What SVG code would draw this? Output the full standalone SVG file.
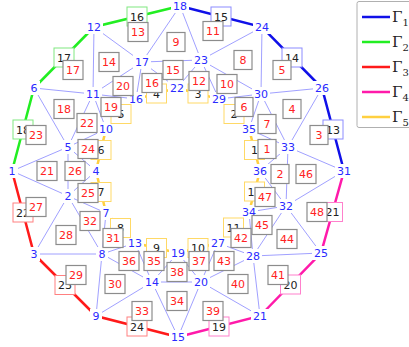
<svg xmlns="http://www.w3.org/2000/svg" width="409" height="347" viewBox="0 0 409 347">
<style>
.m{stroke:#8888ff;stroke-width:0.8;fill:none}
.b{stroke-width:2.5;fill:none;stroke-linecap:butt}
.g1{stroke:#1010e8}.g2{stroke:#22ee22}.g3{stroke:#ff1a1a}.g4{stroke:#ff1aaa}.g5{stroke:#ffd040}
.nb{fill:#fff}
.nt{font-family:"DejaVu Sans",sans-serif;font-size:11px;fill:#2a2aff;text-anchor:middle}
.eb{fill:#fff;stroke:#8c8c8c;stroke-width:1.2}
.et{font-family:"DejaVu Sans",sans-serif;font-size:11px;fill:#ff2222;text-anchor:middle}
.kb{fill:#fff;stroke-width:1}
.k1{stroke:#8c8cff}.k2{stroke:#80e880}.k3{stroke:#ff8080}.k4{stroke:#ff80cc}.k5{stroke:#ffd966}
.kt{font-family:"DejaVu Sans",sans-serif;font-size:11px;fill:#222;text-anchor:middle}
.lg{font-family:"DejaVu Serif",serif;font-size:15px;fill:#222}
</style>
<rect width="409" height="347" fill="#fff"/>
<g id="connectors">
<path class="m" d="M180,6L142,62M180,6L201,60M262,27L201,60M262,27L261,94M322,88L261,94M322,88L288,147M344,171L288,147M344,171L286,206M321,253L286,206M321,253L253,256M260,316L253,256M260,316L201,282M178,337L201,282M178,337L152,282M96,316L152,282M96,316L102,254M34,254L102,254M34,254L68,196M12,171L68,196M12,171L68,147M34,88L68,147M34,88L93,94M94,27L93,94M94,27L142,62"/>
<path class="m" d="M142,62L201,60L261,94L288,147L286,206L253,256L201,282L152,282L102,254L68,196L68,147L93,94Z"/>
<path class="m" d="M142,62L136,99M142,62L177,88M201,60L177,88M201,60L219,99M261,94L219,99M261,94L249,129M288,147L249,129M288,147L260,171M286,206L260,171M286,206L249,212M253,256L249,212M253,256L218,243M201,282L218,243M201,282L178,253M152,282L178,253M152,282L135,243M102,254L135,243M102,254L106,213M68,196L106,213M68,196L96,171M68,147L96,171M68,147L106,129M93,94L106,129M93,94L136,99"/>
<polyline class="b g2" points="12,171 34,88 94,27 180,6"/>
<polyline class="b g1" points="180,6 262,27 322,88 344,171"/>
<polyline class="b g4" points="344,171 321,253 260,316 178,337"/>
<polyline class="b g3" points="178,337 96,316 34,254 12,171"/>
<polygon class="b g5" points="177,88 219,99 249,129 260,171 249,212 218,243 178,253 135,243 106,213 96,171 106,129 136,99"/>
</g>
<g id="nodes">
<g id="n1" transform="translate(12,171)"><rect class="nb" x="-6" y="-7" width="12" height="14"/><text class="nt" y="4">1</text></g>
<g id="n2" transform="translate(68,196)"><rect class="nb" x="-6" y="-7" width="12" height="14"/><text class="nt" y="4">2</text></g>
<g id="n3" transform="translate(34,254)"><rect class="nb" x="-6" y="-7" width="12" height="14"/><text class="nt" y="4">3</text></g>
<g id="n4" transform="translate(96,171)"><rect class="nb" x="-6" y="-7" width="12" height="14"/><text class="nt" y="4">4</text></g>
<g id="n5" transform="translate(68,147)"><rect class="nb" x="-6" y="-7" width="12" height="14"/><text class="nt" y="4">5</text></g>
<g id="n6" transform="translate(34,88)"><rect class="nb" x="-6" y="-7" width="12" height="14"/><text class="nt" y="4">6</text></g>
<g id="n7" transform="translate(106,213)"><rect class="nb" x="-6" y="-7" width="12" height="14"/><text class="nt" y="4">7</text></g>
<g id="n8" transform="translate(102,254)"><rect class="nb" x="-6" y="-7" width="12" height="14"/><text class="nt" y="4">8</text></g>
<g id="n9" transform="translate(96,316)"><rect class="nb" x="-6" y="-7" width="12" height="14"/><text class="nt" y="4">9</text></g>
<g id="n10" transform="translate(106,129)"><rect class="nb" x="-9" y="-7" width="18" height="14"/><text class="nt" y="4">10</text></g>
<g id="n11" transform="translate(93,94)"><rect class="nb" x="-9" y="-7" width="18" height="14"/><text class="nt" y="4">11</text></g>
<g id="n12" transform="translate(94,27)"><rect class="nb" x="-9" y="-7" width="18" height="14"/><text class="nt" y="4">12</text></g>
<g id="n13" transform="translate(135,243)"><rect class="nb" x="-9" y="-7" width="18" height="14"/><text class="nt" y="4">13</text></g>
<g id="n14" transform="translate(152,282)"><rect class="nb" x="-9" y="-7" width="18" height="14"/><text class="nt" y="4">14</text></g>
<g id="n15" transform="translate(178,337)"><rect class="nb" x="-9" y="-7" width="18" height="14"/><text class="nt" y="4">15</text></g>
<g id="n16" transform="translate(136,99)"><rect class="nb" x="-9" y="-7" width="18" height="14"/><text class="nt" y="4">16</text></g>
<g id="n17" transform="translate(142,62)"><rect class="nb" x="-9" y="-7" width="18" height="14"/><text class="nt" y="4">17</text></g>
<g id="n18" transform="translate(180,6)"><rect class="nb" x="-9" y="-7" width="18" height="14"/><text class="nt" y="4">18</text></g>
<g id="n19" transform="translate(178,253)"><rect class="nb" x="-9" y="-7" width="18" height="14"/><text class="nt" y="4">19</text></g>
<g id="n20" transform="translate(201,282)"><rect class="nb" x="-9" y="-7" width="18" height="14"/><text class="nt" y="4">20</text></g>
<g id="n21" transform="translate(260,316)"><rect class="nb" x="-9" y="-7" width="18" height="14"/><text class="nt" y="4">21</text></g>
<g id="n22" transform="translate(177,88)"><rect class="nb" x="-9" y="-7" width="18" height="14"/><text class="nt" y="4">22</text></g>
<g id="n23" transform="translate(201,60)"><rect class="nb" x="-9" y="-7" width="18" height="14"/><text class="nt" y="4">23</text></g>
<g id="n24" transform="translate(262,27)"><rect class="nb" x="-9" y="-7" width="18" height="14"/><text class="nt" y="4">24</text></g>
<g id="n25" transform="translate(321,253)"><rect class="nb" x="-9" y="-7" width="18" height="14"/><text class="nt" y="4">25</text></g>
<g id="n26" transform="translate(322,88)"><rect class="nb" x="-9" y="-7" width="18" height="14"/><text class="nt" y="4">26</text></g>
<g id="n27" transform="translate(218,243)"><rect class="nb" x="-9" y="-7" width="18" height="14"/><text class="nt" y="4">27</text></g>
<g id="n28" transform="translate(253,256)"><rect class="nb" x="-9" y="-7" width="18" height="14"/><text class="nt" y="4">28</text></g>
<g id="n29" transform="translate(219,99)"><rect class="nb" x="-9" y="-7" width="18" height="14"/><text class="nt" y="4">29</text></g>
<g id="n30" transform="translate(261,94)"><rect class="nb" x="-9" y="-7" width="18" height="14"/><text class="nt" y="4">30</text></g>
<g id="n31" transform="translate(344,171)"><rect class="nb" x="-9" y="-7" width="18" height="14"/><text class="nt" y="4">31</text></g>
<g id="n32" transform="translate(286,206)"><rect class="nb" x="-9" y="-7" width="18" height="14"/><text class="nt" y="4">32</text></g>
<g id="n33" transform="translate(288,147)"><rect class="nb" x="-9" y="-7" width="18" height="14"/><text class="nt" y="4">33</text></g>
<g id="n34" transform="translate(249,212)"><rect class="nb" x="-9" y="-7" width="18" height="14"/><text class="nt" y="4">34</text></g>
<g id="n35" transform="translate(249,129)"><rect class="nb" x="-9" y="-7" width="18" height="14"/><text class="nt" y="4">35</text></g>
<g id="n36" transform="translate(260,171)"><rect class="nb" x="-9" y="-7" width="18" height="14"/><text class="nt" y="4">36</text></g>
</g>
<g id="edge-labels">
<g id="k16" transform="translate(137,16.5)"><rect class="kb k2" x="-10" y="-9.5" width="20" height="19"/><text class="kt" y="4">16</text></g>
<g id="k17" transform="translate(64,57.5)"><rect class="kb k2" x="-10" y="-9.5" width="20" height="19"/><text class="kt" y="4">17</text></g>
<g id="k18" transform="translate(23,129.5)"><rect class="kb k2" x="-10" y="-9.5" width="20" height="19"/><text class="kt" y="4">18</text></g>
<g id="k15" transform="translate(221,16.5)"><rect class="kb k1" x="-10" y="-9.5" width="20" height="19"/><text class="kt" y="4">15</text></g>
<g id="k14" transform="translate(292,57.5)"><rect class="kb k1" x="-10" y="-9.5" width="20" height="19"/><text class="kt" y="4">14</text></g>
<g id="k13" transform="translate(333,129.5)"><rect class="kb k1" x="-10" y="-9.5" width="20" height="19"/><text class="kt" y="4">13</text></g>
<g id="k21" transform="translate(332.5,212)"><rect class="kb k4" x="-10" y="-9.5" width="20" height="19"/><text class="kt" y="4">21</text></g>
<g id="k20" transform="translate(290.5,284.5)"><rect class="kb k4" x="-10" y="-9.5" width="20" height="19"/><text class="kt" y="4">20</text></g>
<g id="k19" transform="translate(219,326.5)"><rect class="kb k4" x="-10" y="-9.5" width="20" height="19"/><text class="kt" y="4">19</text></g>
<g id="k24" transform="translate(137,326.5)"><rect class="kb k3" x="-10" y="-9.5" width="20" height="19"/><text class="kt" y="4">24</text></g>
<g id="k23" transform="translate(65,285)"><rect class="kb k3" x="-10" y="-9.5" width="20" height="19"/><text class="kt" y="4">23</text></g>
<g id="k22" transform="translate(23,212.5)"><rect class="kb k3" x="-10" y="-9.5" width="20" height="19"/><text class="kt" y="4">22</text></g>
<g id="k4" transform="translate(156.5,93.5)"><rect class="kb k5" x="-10" y="-9.5" width="20" height="19"/><text class="kt" y="4">4</text></g>
<g id="k3" transform="translate(198,93.5)"><rect class="kb k5" x="-10" y="-9.5" width="20" height="19"/><text class="kt" y="4">3</text></g>
<g id="k2" transform="translate(234,114)"><rect class="kb k5" x="-10" y="-9.5" width="20" height="19"/><text class="kt" y="4">2</text></g>
<g id="k1" transform="translate(254.5,150)"><rect class="kb k5" x="-10" y="-9.5" width="20" height="19"/><text class="kt" y="4">1</text></g>
<g id="k12" transform="translate(254.5,191.5)"><rect class="kb k5" x="-10" y="-9.5" width="20" height="19"/><text class="kt" y="4">12</text></g>
<g id="k11" transform="translate(233.5,227.5)"><rect class="kb k5" x="-10" y="-9.5" width="20" height="19"/><text class="kt" y="4">11</text></g>
<g id="k10" transform="translate(198,248)"><rect class="kb k5" x="-10" y="-9.5" width="20" height="19"/><text class="kt" y="4">10</text></g>
<g id="k9" transform="translate(156.5,248)"><rect class="kb k5" x="-10" y="-9.5" width="20" height="19"/><text class="kt" y="4">9</text></g>
<g id="k8" transform="translate(120.5,228)"><rect class="kb k5" x="-10" y="-9.5" width="20" height="19"/><text class="kt" y="4">8</text></g>
<g id="k7" transform="translate(101,192)"><rect class="kb k5" x="-10" y="-9.5" width="20" height="19"/><text class="kt" y="4">7</text></g>
<g id="k6" transform="translate(101,150)"><rect class="kb k5" x="-10" y="-9.5" width="20" height="19"/><text class="kt" y="4">6</text></g>
<g id="k5" transform="translate(121,114)"><rect class="kb k5" x="-10" y="-9.5" width="20" height="19"/><text class="kt" y="4">5</text></g>
</g>
<g id="elements">
<g id="e1" transform="translate(267,149)"><rect class="eb" x="-9" y="-9.5" width="18" height="19"/><text class="et" y="4">1</text></g>
<g id="e2" transform="translate(280,174)"><rect class="eb" x="-9" y="-9.5" width="18" height="19"/><text class="et" y="4">2</text></g>
<g id="e3" transform="translate(319,135)"><rect class="eb" x="-9" y="-9.5" width="18" height="19"/><text class="et" y="4">3</text></g>
<g id="e4" transform="translate(292,109)"><rect class="eb" x="-9" y="-9.5" width="18" height="19"/><text class="et" y="4">4</text></g>
<g id="e5" transform="translate(282,70)"><rect class="eb" x="-9" y="-9.5" width="18" height="19"/><text class="et" y="4">5</text></g>
<g id="e6" transform="translate(244,107)"><rect class="eb" x="-9" y="-9.5" width="18" height="19"/><text class="et" y="4">6</text></g>
<g id="e7" transform="translate(267,124)"><rect class="eb" x="-9" y="-9.5" width="18" height="19"/><text class="et" y="4">7</text></g>
<g id="e8" transform="translate(243,60)"><rect class="eb" x="-9" y="-9.5" width="18" height="19"/><text class="et" y="4">8</text></g>
<g id="e9" transform="translate(176,42)"><rect class="eb" x="-9" y="-9.5" width="18" height="19"/><text class="et" y="4">9</text></g>
<g id="e10" transform="translate(227,84)"><rect class="eb" x="-10" y="-9.5" width="20" height="19"/><text class="et" y="4">10</text></g>
<g id="e11" transform="translate(213,31)"><rect class="eb" x="-10" y="-9.5" width="20" height="19"/><text class="et" y="4">11</text></g>
<g id="e12" transform="translate(199,81)"><rect class="eb" x="-10" y="-9.5" width="20" height="19"/><text class="et" y="4">12</text></g>
<g id="e13" transform="translate(138,32)"><rect class="eb" x="-10" y="-9.5" width="20" height="19"/><text class="et" y="4">13</text></g>
<g id="e14" transform="translate(109,62)"><rect class="eb" x="-10" y="-9.5" width="20" height="19"/><text class="et" y="4">14</text></g>
<g id="e15" transform="translate(173,70)"><rect class="eb" x="-10" y="-9.5" width="20" height="19"/><text class="et" y="4">15</text></g>
<g id="e16" transform="translate(152,83)"><rect class="eb" x="-10" y="-9.5" width="20" height="19"/><text class="et" y="4">16</text></g>
<g id="e17" transform="translate(73,70)"><rect class="eb" x="-10" y="-9.5" width="20" height="19"/><text class="et" y="4">17</text></g>
<g id="e18" transform="translate(64,109)"><rect class="eb" x="-10" y="-9.5" width="20" height="19"/><text class="et" y="4">18</text></g>
<g id="e19" transform="translate(111,107)"><rect class="eb" x="-10" y="-9.5" width="20" height="19"/><text class="et" y="4">19</text></g>
<g id="e20" transform="translate(123,86)"><rect class="eb" x="-10" y="-9.5" width="20" height="19"/><text class="et" y="4">20</text></g>
<g id="e21" transform="translate(47,171)"><rect class="eb" x="-10" y="-9.5" width="20" height="19"/><text class="et" y="4">21</text></g>
<g id="e22" transform="translate(87,123)"><rect class="eb" x="-10" y="-9.5" width="20" height="19"/><text class="et" y="4">22</text></g>
<g id="e23" transform="translate(36,135)"><rect class="eb" x="-10" y="-9.5" width="20" height="19"/><text class="et" y="4">23</text></g>
<g id="e24" transform="translate(88,149)"><rect class="eb" x="-10" y="-9.5" width="20" height="19"/><text class="et" y="4">24</text></g>
<g id="e25" transform="translate(88,193)"><rect class="eb" x="-10" y="-9.5" width="20" height="19"/><text class="et" y="4">25</text></g>
<g id="e26" transform="translate(75,171)"><rect class="eb" x="-10" y="-9.5" width="20" height="19"/><text class="et" y="4">26</text></g>
<g id="e27" transform="translate(36,207)"><rect class="eb" x="-10" y="-9.5" width="20" height="19"/><text class="et" y="4">27</text></g>
<g id="e28" transform="translate(66,235)"><rect class="eb" x="-10" y="-9.5" width="20" height="19"/><text class="et" y="4">28</text></g>
<g id="e29" transform="translate(76,275)"><rect class="eb" x="-10" y="-9.5" width="20" height="19"/><text class="et" y="4">29</text></g>
<g id="e30" transform="translate(115,284)"><rect class="eb" x="-10" y="-9.5" width="20" height="19"/><text class="et" y="4">30</text></g>
<g id="e31" transform="translate(113,238)"><rect class="eb" x="-10" y="-9.5" width="20" height="19"/><text class="et" y="4">31</text></g>
<g id="e32" transform="translate(90,221)"><rect class="eb" x="-10" y="-9.5" width="20" height="19"/><text class="et" y="4">32</text></g>
<g id="e33" transform="translate(142,311)"><rect class="eb" x="-10" y="-9.5" width="20" height="19"/><text class="et" y="4">33</text></g>
<g id="e34" transform="translate(177,301)"><rect class="eb" x="-10" y="-9.5" width="20" height="19"/><text class="et" y="4">34</text></g>
<g id="e35" transform="translate(154,261)"><rect class="eb" x="-10" y="-9.5" width="20" height="19"/><text class="et" y="4">35</text></g>
<g id="e36" transform="translate(129,261)"><rect class="eb" x="-10" y="-9.5" width="20" height="19"/><text class="et" y="4">36</text></g>
<g id="e37" transform="translate(199,261)"><rect class="eb" x="-10" y="-9.5" width="20" height="19"/><text class="et" y="4">37</text></g>
<g id="e38" transform="translate(177,272)"><rect class="eb" x="-10" y="-9.5" width="20" height="19"/><text class="et" y="4">38</text></g>
<g id="e39" transform="translate(213,311)"><rect class="eb" x="-10" y="-9.5" width="20" height="19"/><text class="et" y="4">39</text></g>
<g id="e40" transform="translate(238,284)"><rect class="eb" x="-10" y="-9.5" width="20" height="19"/><text class="et" y="4">40</text></g>
<g id="e41" transform="translate(278,275)"><rect class="eb" x="-10" y="-9.5" width="20" height="19"/><text class="et" y="4">41</text></g>
<g id="e42" transform="translate(241,238)"><rect class="eb" x="-10" y="-9.5" width="20" height="19"/><text class="et" y="4">42</text></g>
<g id="e43" transform="translate(224,261)"><rect class="eb" x="-10" y="-9.5" width="20" height="19"/><text class="et" y="4">43</text></g>
<g id="e44" transform="translate(287,239)"><rect class="eb" x="-10" y="-9.5" width="20" height="19"/><text class="et" y="4">44</text></g>
<g id="e45" transform="translate(262,225)"><rect class="eb" x="-10" y="-9.5" width="20" height="19"/><text class="et" y="4">45</text></g>
<g id="e46" transform="translate(306,174)"><rect class="eb" x="-10" y="-9.5" width="20" height="19"/><text class="et" y="4">46</text></g>
<g id="e47" transform="translate(265,197)"><rect class="eb" x="-10" y="-9.5" width="20" height="19"/><text class="et" y="4">47</text></g>
<g id="e48" transform="translate(317,212)"><rect class="eb" x="-10" y="-9.5" width="20" height="19"/><text class="et" y="4">48</text></g>
</g>
<g id="legend">
<rect x="357" y="1.5" width="60" height="126" rx="2" fill="#fff" stroke="#b0b0b0" stroke-width="1"/>
<line class="b g1" x1="362" y1="17" x2="390" y2="17"/>
<line class="b g2" x1="362" y1="42" x2="390" y2="42"/>
<line class="b g3" x1="362" y1="67" x2="390" y2="67"/>
<line class="b g4" x1="362" y1="92" x2="390" y2="92"/>
<line class="b g5" x1="362" y1="117" x2="390" y2="117"/>
<text class="lg" x="392" y="22">Γ<tspan font-size="10" dy="4">1</tspan></text>
<text class="lg" x="392" y="47">Γ<tspan font-size="10" dy="4">2</tspan></text>
<text class="lg" x="392" y="72">Γ<tspan font-size="10" dy="4">3</tspan></text>
<text class="lg" x="392" y="97">Γ<tspan font-size="10" dy="4">4</tspan></text>
<text class="lg" x="392" y="122">Γ<tspan font-size="10" dy="4">5</tspan></text>
</g>
</svg>
